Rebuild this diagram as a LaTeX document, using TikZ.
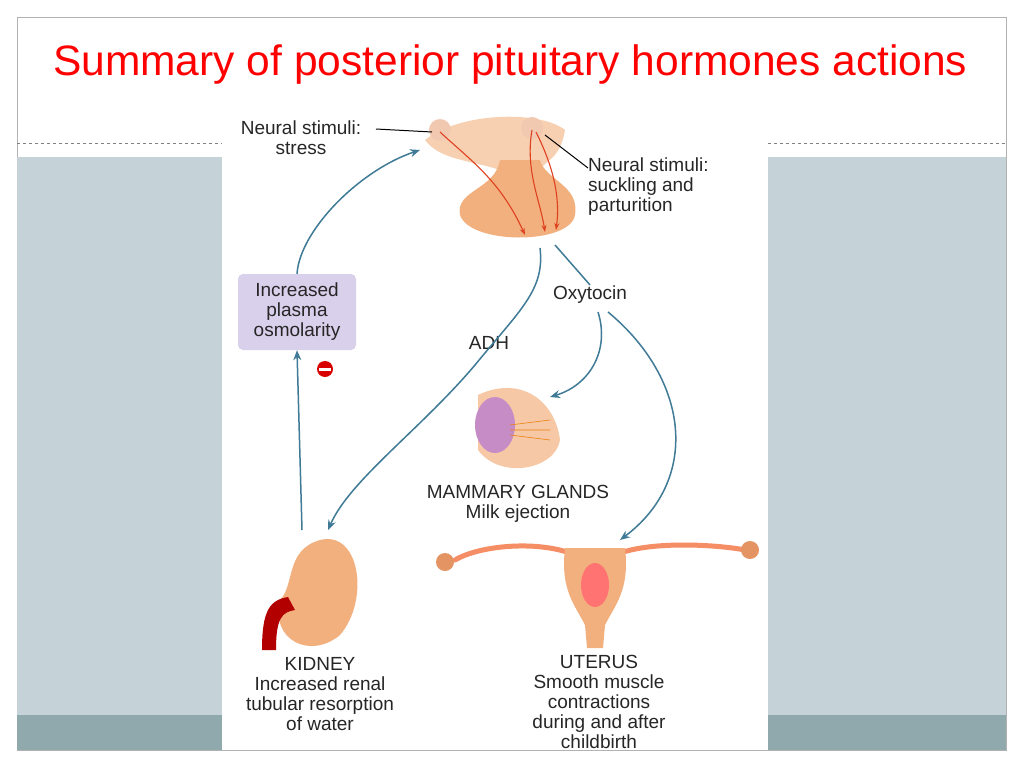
\documentclass[tikz,border=0pt]{standalone}
\usepackage{fontspec}
\setmainfont{Liberation Sans}
\usetikzlibrary{arrows.meta}
\definecolor{panel}{HTML}{C5D3D8}
\definecolor{strip}{HTML}{8FA9AC}
\definecolor{teal}{HTML}{3F7A96}
\definecolor{flesh}{HTML}{F2B07E}
\definecolor{fleshd}{HTML}{E39462}
\definecolor{lav}{HTML}{D9D0EC}
\begin{document}
\begin{tikzpicture}[x=1pt,y=-1pt,
  lbl/.style={font=\fontsize{19}{20}\selectfont, align=center, text=black!85, inner sep=1pt},
  hor/.style={-{Stealth[length=10pt,width=8pt]}, teal, line width=1.5pt},
  nerve/.style={-{Stealth[length=7pt,width=5pt]}, red!50!brown, line width=1.1pt}]
\useasboundingbox (0,0) rectangle (1024,768);
\fill[white] (0,0) rectangle (1024,768);
\draw[gray!60] (17,17) rectangle (1006,750);
\fill[panel] (17,157) rectangle (222,715);
\fill[panel] (768,157) rectangle (1006,715);
\fill[strip] (17,715) rectangle (222,750);
\fill[strip] (768,715) rectangle (1006,750);
\draw[gray, dashed] (17,143) -- (222,143);
\draw[gray, dashed] (768,143) -- (1006,143);
\fill[white] (222,110) rectangle (768,750);
\node[text=red, font=\fontsize{42.5}{46}\selectfont, anchor=west, inner sep=0pt] (title) at (53,65) {Summary of posterior pituitary hormones actions};
% pituitary
\fill[flesh!60] (425,140) .. controls (460,112) and (540,110) .. (565,130) .. controls (560,160) and (545,160) .. (540,170) -- (500,170) .. controls (470,160) and (440,160) .. (425,140);
\fill[flesh] (500,160) -- (540,160) .. controls (545,180) and (580,185) .. (575,215) .. controls (570,245) and (470,245) .. (460,215) .. controls (455,190) and (495,190) .. (500,160);
\fill[fleshd!50] (440,130) circle (11);
\fill[fleshd!50] (532,128) circle (11);
\draw[nerve] (440,132) .. controls (470,160) and (500,180) .. (525,235);
\draw[nerve] (532,130) .. controls (525,170) and (540,200) .. (545,232);
\draw[nerve] (536,132) .. controls (555,170) and (560,200) .. (556,230);
\coordinate (hyL) at (432,132);
\coordinate (hyR) at (545,135);
\node[lbl] (ns1) at (301,138) {Neural stimuli:\\stress};
\draw[black, line width=1pt] (376,129) -- (hyL);
\node[lbl, anchor=west, align=left] (ns2) at (587,187) {Neural stimuli:\\suckling and\\parturition};
\draw[black, line width=1pt] (588,168) -- (hyR);
% box
\node[lbl, fill=lav, rounded corners=5pt, minimum width=118pt, minimum height=76pt] (box) at (297,312) {Increased\\plasma\\osmolarity};
\fill[red!85!black] (325,369) circle (8);
\fill[white] (319,367.5) rectangle (331,370.5);
% kidney
\fill[flesh] (320,540) .. controls (360,530) and (370,600) .. (340,635) .. controls (310,660) and (270,640) .. (280,600) .. controls (295,585) and (285,550) .. (320,540);
\fill[red!70!black] (288,597) .. controls (270,600) and (262,610) .. (262,650) -- (276,650) .. controls (276,618) and (282,612) .. (295,610) -- cycle;
\node[lbl] (kt) at (320,694) {KIDNEY\\Increased renal\\tubular resorption\\of water};
% breast
\fill[flesh!70] (478,395) .. controls (520,375) and (555,400) .. (560,440) .. controls (555,470) and (500,480) .. (478,450) -- cycle;
\fill[violet!45] (495,425) ellipse (20 and 28);
\draw[orange!70!brown, line width=0.6pt] (510,425) -- (550,420) (510,430) -- (550,430) (510,435) -- (550,440);
\node[lbl] (bt) at (518,504) {MAMMARY GLANDS\\Milk ejection};
% uterus
\draw[flesh!80!red, line width=5pt, line cap=round] (575,555) .. controls (540,540) and (480,545) .. (455,560);
\draw[flesh!80!red, line width=5pt, line cap=round] (615,555) .. controls (650,540) and (720,545) .. (745,550);
\fill[fleshd] (445,562) circle (9) (750,550) circle (9);
\fill[flesh] (565,548) -- (625,548) .. controls (630,590) and (615,605) .. (605,625) -- (603,648) -- (587,648) -- (585,625) .. controls (575,605) and (560,590) .. (565,548);
\fill[red!55] (595,585) ellipse (14 and 22);
\node[lbl] (utt) at (599,702) {UTERUS\\Smooth muscle\\contractions\\during and after\\childbirth};
% hormone labels
\node[lbl] (oxy) at (590,295) {Oxytocin};
\node[lbl] (adh) at (489,343) {ADH};
\coordinate (gl1) at (540,248);
\coordinate (gl2) at (555,245);
% arrows
\draw[hor] (box.north) .. controls (300,230) and (360,170) .. (420,150);
\draw[hor] (302,530) -- (box.south);
\draw[hor] (gl1) .. controls (545,290) and (520,310) .. (475,365) .. controls (420,430) and (350,480) .. (328,530);
\draw[teal, line width=1.5pt] (gl2) -- (oxy.north);
\draw[hor] (598,312) .. controls (610,350) and (590,385) .. (550,397);
\draw[hor] (608,312) .. controls (690,380) and (700,480) .. (620,540);
\end{tikzpicture}
\end{document}
